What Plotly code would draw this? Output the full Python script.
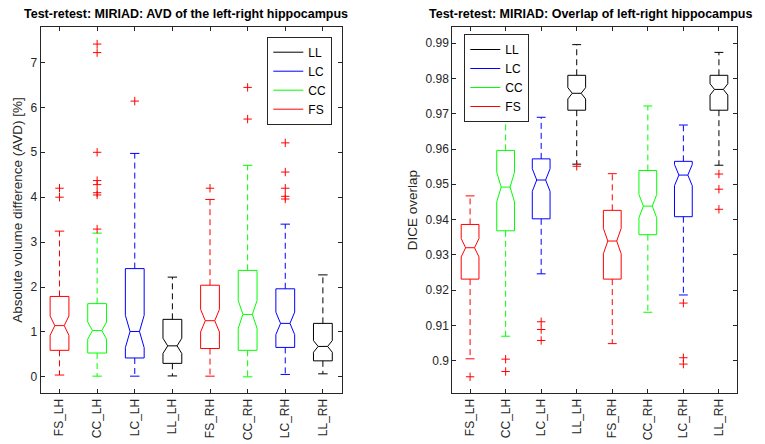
import plotly.graph_objects as go

categories = ["FS_LH", "CC_LH", "LC_LH", "LL_LH", "FS_RH", "CC_RH", "LC_RH", "LL_RH"]
methods = ["FS", "CC", "LC", "LL", "FS", "CC", "LC", "LL"]
method_colors = {"FS": "#ff0000", "CC": "#00ff00", "LC": "#0000ff", "LL": "#000000"}
legend_order = ["LL", "LC", "CC", "FS"]

# Left panel: AVD [%]
avd_q1 = [0.59, 0.53, 0.42, 0.30, 0.63, 0.59, 0.655, 0.356]
avd_median = [1.14, 1.03, 1.01, 0.69, 1.25, 1.39, 1.19, 0.677]
avd_q3 = [1.79, 1.63, 2.41, 1.28, 2.04, 2.37, 1.96, 1.19]
avd_notch = [0.215, 0.19, 0.36, 0.17, 0.25, 0.31, 0.25, 0.13]
avd_lower = [0.04, 0.015, 0.015, 0.02, 0.015, 0.0, 0.053, 0.067]
avd_upper = [3.245, 3.2, 4.975, 2.22, 3.95, 4.71, 3.40, 2.27]
avd_outliers = [[4.0, 4.2], [3.29, 4.05, 4.10, 4.28, 4.37, 5.0, 7.22, 7.41], [6.14], [],
                [4.2], [5.74, 6.445], [3.96, 4.02, 4.2, 4.56, 5.21], []]

# Right panel: DICE overlap
dice_q1 = [0.9231, 0.9368, 0.9402, 0.9710, 0.9231, 0.9357, 0.9408, 0.9710]
dice_median = [0.9320, 0.9492, 0.9512, 0.9758, 0.9339, 0.9438, 0.9526, 0.9769]
dice_q3 = [0.9386, 0.9596, 0.9572, 0.9809, 0.9426, 0.9539, 0.9565, 0.9809]
dice_notch = [0.0026, 0.0042, 0.0032, 0.0016, 0.0036, 0.0033, 0.0030, 0.0016]
dice_lower = [0.9005, 0.9069, 0.9246, 0.9557, 0.9048, 0.9137, 0.9186, 0.9554]
dice_upper = [0.9467, 0.9700, 0.9690, 0.9896, 0.9530, 0.9722, 0.9668, 0.9874]
dice_outliers = [[0.8954], [0.8969, 0.9004], [0.9057, 0.9088, 0.9110], [0.9551], [], [],
                 [0.8990, 0.9008, 0.9163], [0.9429, 0.9486, 0.9529]]

avd_yticks = [0, 1, 2, 3, 4, 5, 6, 7]
dice_yticks = [0.9, 0.91, 0.92, 0.93, 0.94, 0.95, 0.96, 0.97, 0.98, 0.99]
dice_yticktext = ["0.9", "0.91", "0.92", "0.93", "0.94", "0.95", "0.96", "0.97", "0.98", "0.99"]

FONT = "Liberation Sans, Arial, Helvetica, sans-serif"
AX = "#262626"
HW = 0.25   # half box width
NW = 0.125  # half width at notch / caps

fig = go.Figure()


def add_panel(xa, ya, q1, med, q3, notch, lo, hi, outl):
    for i, cat in enumerate(categories):
        x = i + 1
        c = method_colors[methods[i]]
        nlo, nhi = med[i] - notch[i], med[i] + notch[i]
        bx = [x - HW, x - HW, x - NW, x - HW, x - HW, x + HW, x + HW, x + NW, x + HW, x + HW, x - HW]
        by = [q1[i], nlo, med[i], nhi, q3[i], q3[i], nhi, med[i], nlo, q1[i], q1[i]]
        fig.add_trace(go.Scatter(x=bx, y=by, mode="lines", line=dict(color=c, width=1),
                                 xaxis=xa, yaxis=ya, showlegend=False, hoverinfo="skip"))
        fig.add_trace(go.Scatter(x=[x - NW, x + NW], y=[med[i], med[i]], mode="lines",
                                 line=dict(color=c, width=1), xaxis=xa, yaxis=ya,
                                 showlegend=False, hoverinfo="skip"))
        fig.add_trace(go.Scatter(x=[x, x, None, x, x], y=[q3[i], hi[i], None, q1[i], lo[i]],
                                 mode="lines", line=dict(color=c, width=1, dash="6px,4px"),
                                 xaxis=xa, yaxis=ya, showlegend=False, hoverinfo="skip"))
        fig.add_trace(go.Scatter(x=[x - NW, x + NW, None, x - NW, x + NW],
                                 y=[hi[i], hi[i], None, lo[i], lo[i]], mode="lines",
                                 line=dict(color=c, width=1), xaxis=xa, yaxis=ya,
                                 showlegend=False, hoverinfo="skip"))
        if outl[i]:
            fig.add_trace(go.Scatter(x=[x] * len(outl[i]), y=outl[i], mode="markers",
                                     marker=dict(symbol="cross-thin", size=6,
                                                 line=dict(width=1, color="#ff0000")),
                                     xaxis=xa, yaxis=ya, showlegend=False, hoverinfo="skip"))


add_panel("x", "y", avd_q1, avd_median, avd_q3, avd_notch, avd_lower, avd_upper, avd_outliers)
add_panel("x2", "y2", dice_q1, dice_median, dice_q3, dice_notch, dice_lower, dice_upper, dice_outliers)

for lg, xa, ya in [("legend", "x", "y"), ("legend2", "x2", "y2")]:
    for m in legend_order:
        fig.add_trace(go.Scatter(x=[None], y=[None], mode="lines", name=m,
                                 line=dict(color=method_colors[m], width=1),
                                 xaxis=xa, yaxis=ya, legend=lg))

W, H = 765, 444
axis_common = dict(showline=True, linecolor=AX, linewidth=1, mirror="ticks", ticks="inside",
                   ticklen=4, tickcolor=AX, showgrid=False, zeroline=False,
                   tickfont=dict(family=FONT, size=12, color=AX))
xcommon = dict(axis_common, tickmode="array", tickvals=list(range(1, 9)), ticktext=categories,
               range=[0.5, 8.5], tickangle=-90)
ydom = [1 - 393 / H, 1 - 27 / H]

fig.update_layout(
    width=W, height=H, margin=dict(l=0, r=0, t=0, b=0),
    paper_bgcolor="white", plot_bgcolor="white",
    font=dict(family=FONT, size=12, color=AX),
    xaxis=dict(xcommon, domain=[40.7 / W, 341.7 / W], anchor="y"),
    yaxis=dict(axis_common, domain=ydom, range=[-0.36, 7.79], tickvals=avd_yticks, anchor="x",
               title=dict(text="Absolute volume difference (AVD) [%]", standoff=4,
                          font=dict(family=FONT, size=13.5, color=AX))),
    xaxis2=dict(xcommon, domain=[452.3 / W, 736.7 / W], anchor="y2"),
    yaxis2=dict(axis_common, domain=ydom, range=[0.8908, 0.9946], tickvals=dice_yticks,
                ticktext=dice_yticktext, anchor="x2",
                title=dict(text="DICE overlap", standoff=4,
                           font=dict(family=FONT, size=13.5, color=AX))),
    legend=dict(x=332.3 / W, y=1 - 36.7 / H, xanchor="right", yanchor="top",
                bgcolor="white", bordercolor=AX, borderwidth=1, itemwidth=30,
                tracegroupgap=0, font=dict(family=FONT, size=12, color="#000000")),
    legend2=dict(x=464.3 / W, y=1 - 34 / H, xanchor="left", yanchor="top",
                 bgcolor="white", bordercolor=AX, borderwidth=1, itemwidth=30,
                 tracegroupgap=0, font=dict(family=FONT, size=12, color="#000000")),
    annotations=[
        dict(text="<b>Test-retest: MIRIAD: AVD of the left-right hippocampus</b>",
             xref="paper", yref="paper", x=186 / W, y=1 - 14 / H, xanchor="center",
             yanchor="middle", showarrow=False, font=dict(family=FONT, size=12.5, color="#000000")),
        dict(text="<b>Test-retest: MIRIAD: Overlap of left-right hippocampus</b>",
             xref="paper", yref="paper", x=590 / W, y=1 - 14 / H, xanchor="center",
             yanchor="middle", showarrow=False, font=dict(family=FONT, size=12.5, color="#000000")),
    ],
)

fig.write_html("out.html")
